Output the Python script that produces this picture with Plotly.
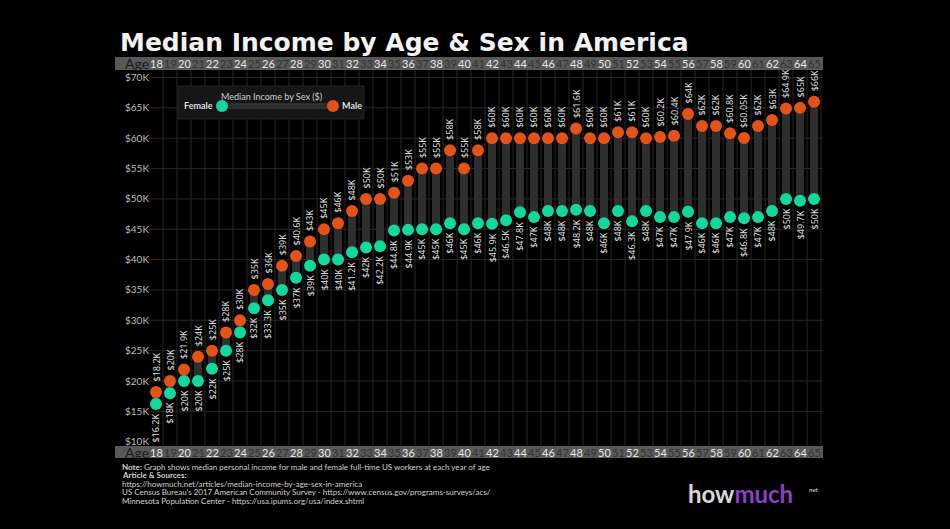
import plotly.graph_objects as go

# median personal income (thousand $) by single year of age
ages = [18, 19, 20, 21, 22, 23, 24, 25, 26, 27, 28, 29, 30, 31, 32, 33,
        34, 35, 36, 37, 38, 39, 40, 41, 42, 43, 44, 45, 46, 47, 48, 49,
        50, 51, 52, 53, 54, 55, 56, 57, 58, 59, 60, 61, 62, 63, 64, 65]
female = [16.2, 18, 20, 20, 22, 25, 28, 32, 33.3, 35, 37, 39, 40, 40, 41.2, 42,
          42.2, 44.8, 44.9, 45, 45, 46, 45, 46, 45.9, 46.5, 47.8, 47, 48, 48, 48.2, 48,
          46, 48, 46.3, 48, 47, 47, 47.9, 46, 46, 47, 46.8, 47, 48, 50, 49.7, 50]
male = [18.2, 20, 21.9, 24, 25, 28, 30, 35, 36, 39, 40.6, 43, 45, 46, 48, 50,
        50, 51, 53, 55, 55, 58, 55, 58, 60, 60, 60, 60, 60, 60, 61.6, 60,
        60, 61, 61, 60, 60.2, 60.4, 64, 62, 62, 60.8, 60.05, 62, 63, 64.9, 65, 66]
ytick_vals = [10, 15, 20, 25, 30, 35, 40, 45, 50, 55, 60, 65, 70]

FEMALE_C = '#17d69d'
MALE_C = '#e1531b'
W, H = 950, 529
L, R, T, B = 115, 127, 70, 83
PW, PH = W - L - R, H - T - B


def px(x):
    return (x - L) / PW


def py(y):
    return (H - B - y) / PH


fig = go.Figure()

# connecting bars
fig.add_trace(go.Bar(x=ages, y=[m - f for m, f in zip(male, female)], base=female,
                     width=0.58, marker=dict(color='#2e2e2e', line=dict(width=0)),
                     hoverinfo='skip', showlegend=False))
fig.add_trace(go.Scatter(x=ages, y=female, mode='markers', name='Female',
                         marker=dict(size=12, color=FEMALE_C), showlegend=False))
fig.add_trace(go.Scatter(x=ages, y=male, mode='markers', name='Male',
                         marker=dict(size=12, color=MALE_C), showlegend=False))

shapes = []
# grid
for v in ytick_vals[1:]:
    shapes.append(dict(type='line', xref='x', yref='y', x0=17.45, x1=65.64, y0=v, y1=v,
                       line=dict(color='#282828', width=1), layer='below'))
for a in ages:
    shapes.append(dict(type='line', xref='x', yref='paper', x0=a + 0.5, x1=a + 0.5, y0=0, y1=1,
                       line=dict(color='#282828', width=1), layer='below'))
# age bars top and bottom
shapes.append(dict(type='rect', xref='paper', yref='paper', x0=0, x1=1, y0=1, y1=py(57),
                   fillcolor='#585858', line=dict(width=0)))
shapes.append(dict(type='rect', xref='paper', yref='paper', x0=0, x1=1, y0=py(458), y1=0,
                   fillcolor='#585858', line=dict(width=0)))
# legend box
shapes.append(dict(type='rect', xref='paper', yref='paper', x0=px(178), x1=px(364), y0=py(119), y1=py(86),
                   fillcolor='#161616', line=dict(color='#222222', width=1)))
shapes.append(dict(type='line', xref='paper', yref='paper', x0=px(222), x1=px(333), y0=py(106), y1=py(106),
                   line=dict(color='#2e2e2e', width=6)))
shapes.append(dict(type='circle', xref='paper', yref='paper', x0=px(216), x1=px(228), y0=py(112), y1=py(100),
                   fillcolor=FEMALE_C, line=dict(width=0)))
shapes.append(dict(type='circle', xref='paper', yref='paper', x0=px(327), x1=px(339), y0=py(112), y1=py(100),
                   fillcolor=MALE_C, line=dict(width=0)))

ann = []
lbl_font = dict(family='Noto Sans', size=9, color='#dddddd')
for a, f, m in zip(ages, female, male):
    ann.append(dict(x=a, y=m, xref='x', yref='y', text=f'${m:g}K', textangle=-90, showarrow=False,
                    xanchor='center', yanchor='bottom', yshift=8, font=lbl_font))
    ann.append(dict(x=a, y=f, xref='x', yref='y', text=f'${f:g}K', textangle=-90, showarrow=False,
                    xanchor='center', yanchor='top', yshift=-8, font=lbl_font))
    col = '#e6e6e6' if a % 2 == 0 else '#333333'
    for yy in (py(63.5), py(452)):
        ann.append(dict(x=a, y=yy, xref='x', yref='paper', text=str(a), showarrow=False,
                        xanchor='center', yanchor='middle',
                        font=dict(family='Lato', size=11, color=col)))
for yy in (py(63.5), py(452)):
    ann.append(dict(x=px(123), y=yy, xref='paper', yref='paper', text='Age', showarrow=False,
                    xanchor='left', yanchor='middle', font=dict(family='Lato', size=14, color='#1a1a1a')))

# legend texts
ann.append(dict(x=px(271), y=py(96), xref='paper', yref='paper', text='Median Income by Sex ($)',
                xanchor='center', yanchor='middle',
                showarrow=False, font=dict(family='Lato', size=9, color='#cccccc')))
ann.append(dict(x=px(215), y=py(106), xref='paper', yref='paper', text='<b>Female</b>',
                xanchor='right', yanchor='middle',
                showarrow=False, font=dict(family='Lato', size=9, color='#dddddd')))
ann.append(dict(x=px(340), y=py(106), xref='paper', yref='paper', text='<b>Male</b>',
                xanchor='left', yanchor='middle',
                showarrow=False, font=dict(family='Lato', size=9, color='#dddddd')))

# notes
notes = [
    '<b>Note:</b> Graph shows median personal income for male and female full-time US workers at each year of age',
    '<b>Article & Sources:</b>',
    'https://howmuch.net/articles/median-income-by-age-sex-in-america',
    "US Census Bureau's 2017 American Community Survey - https://www.census.gov/programs-surveys/acs/",
    'Minnesota Population Center - https://usa.ipums.org/usa/index.shtml',
]
for i, t in enumerate(notes):
    ann.append(dict(x=px(120), y=py(467 + i * 8.4), xref='paper', yref='paper', text=t,
                    xanchor='left', yanchor='middle',
                    showarrow=False, font=dict(family='Lato', size=8, color='#d0d0d0')))

# logo
ann.append(dict(x=px(686), y=py(493), xref='paper', yref='paper', xanchor='left', yanchor='middle',
                showarrow=False,
                text="<b><span style='color:#d8d8d8'>how</span><span style='color:#8e3fc9'>much</span></b>",
                font=dict(family='Lato', size=24)))
ann.append(dict(x=px(807), y=py(489), xref='paper', yref='paper', xanchor='left', yanchor='middle',
                showarrow=False, text='<b>net</b>', font=dict(family='Lato', size=6, color='#bbbbbb')))

fig.update_layout(
    width=W, height=H,
    margin=dict(l=L, r=R, t=T, b=B),
    paper_bgcolor='#000000', plot_bgcolor='#000000',
    title=dict(text='<b>Median Income by Age & Sex in America</b>', xref='container', yref='container',
               x=120 / W, xanchor='left', y=1 - 42 / H, yanchor='middle',
               font=dict(family='DejaVu Sans', size=25, color='#f2f2f2')),
    bargap=0,
    shapes=shapes,
    annotations=ann,
    showlegend=False,
)
fig.update_xaxes(range=[15.07, 65.64], showgrid=False, zeroline=False, showticklabels=False, fixedrange=True)
fig.update_yaxes(range=[9.29, 71.24], showgrid=False, zeroline=False,
                 tickvals=ytick_vals, ticktext=[f'${v}K' for v in ytick_vals],
                 ticklabelposition='inside', ticklabelstandoff=7, ticklabeloverflow='allow', ticks='',
                 tickfont=dict(family='Lato', size=10, color='#bdbdbd'))

fig.write_html('out.html', config={'displayModeBar': False},
               post_script="document.body.style.margin='0';document.body.style.overflow='hidden';")
